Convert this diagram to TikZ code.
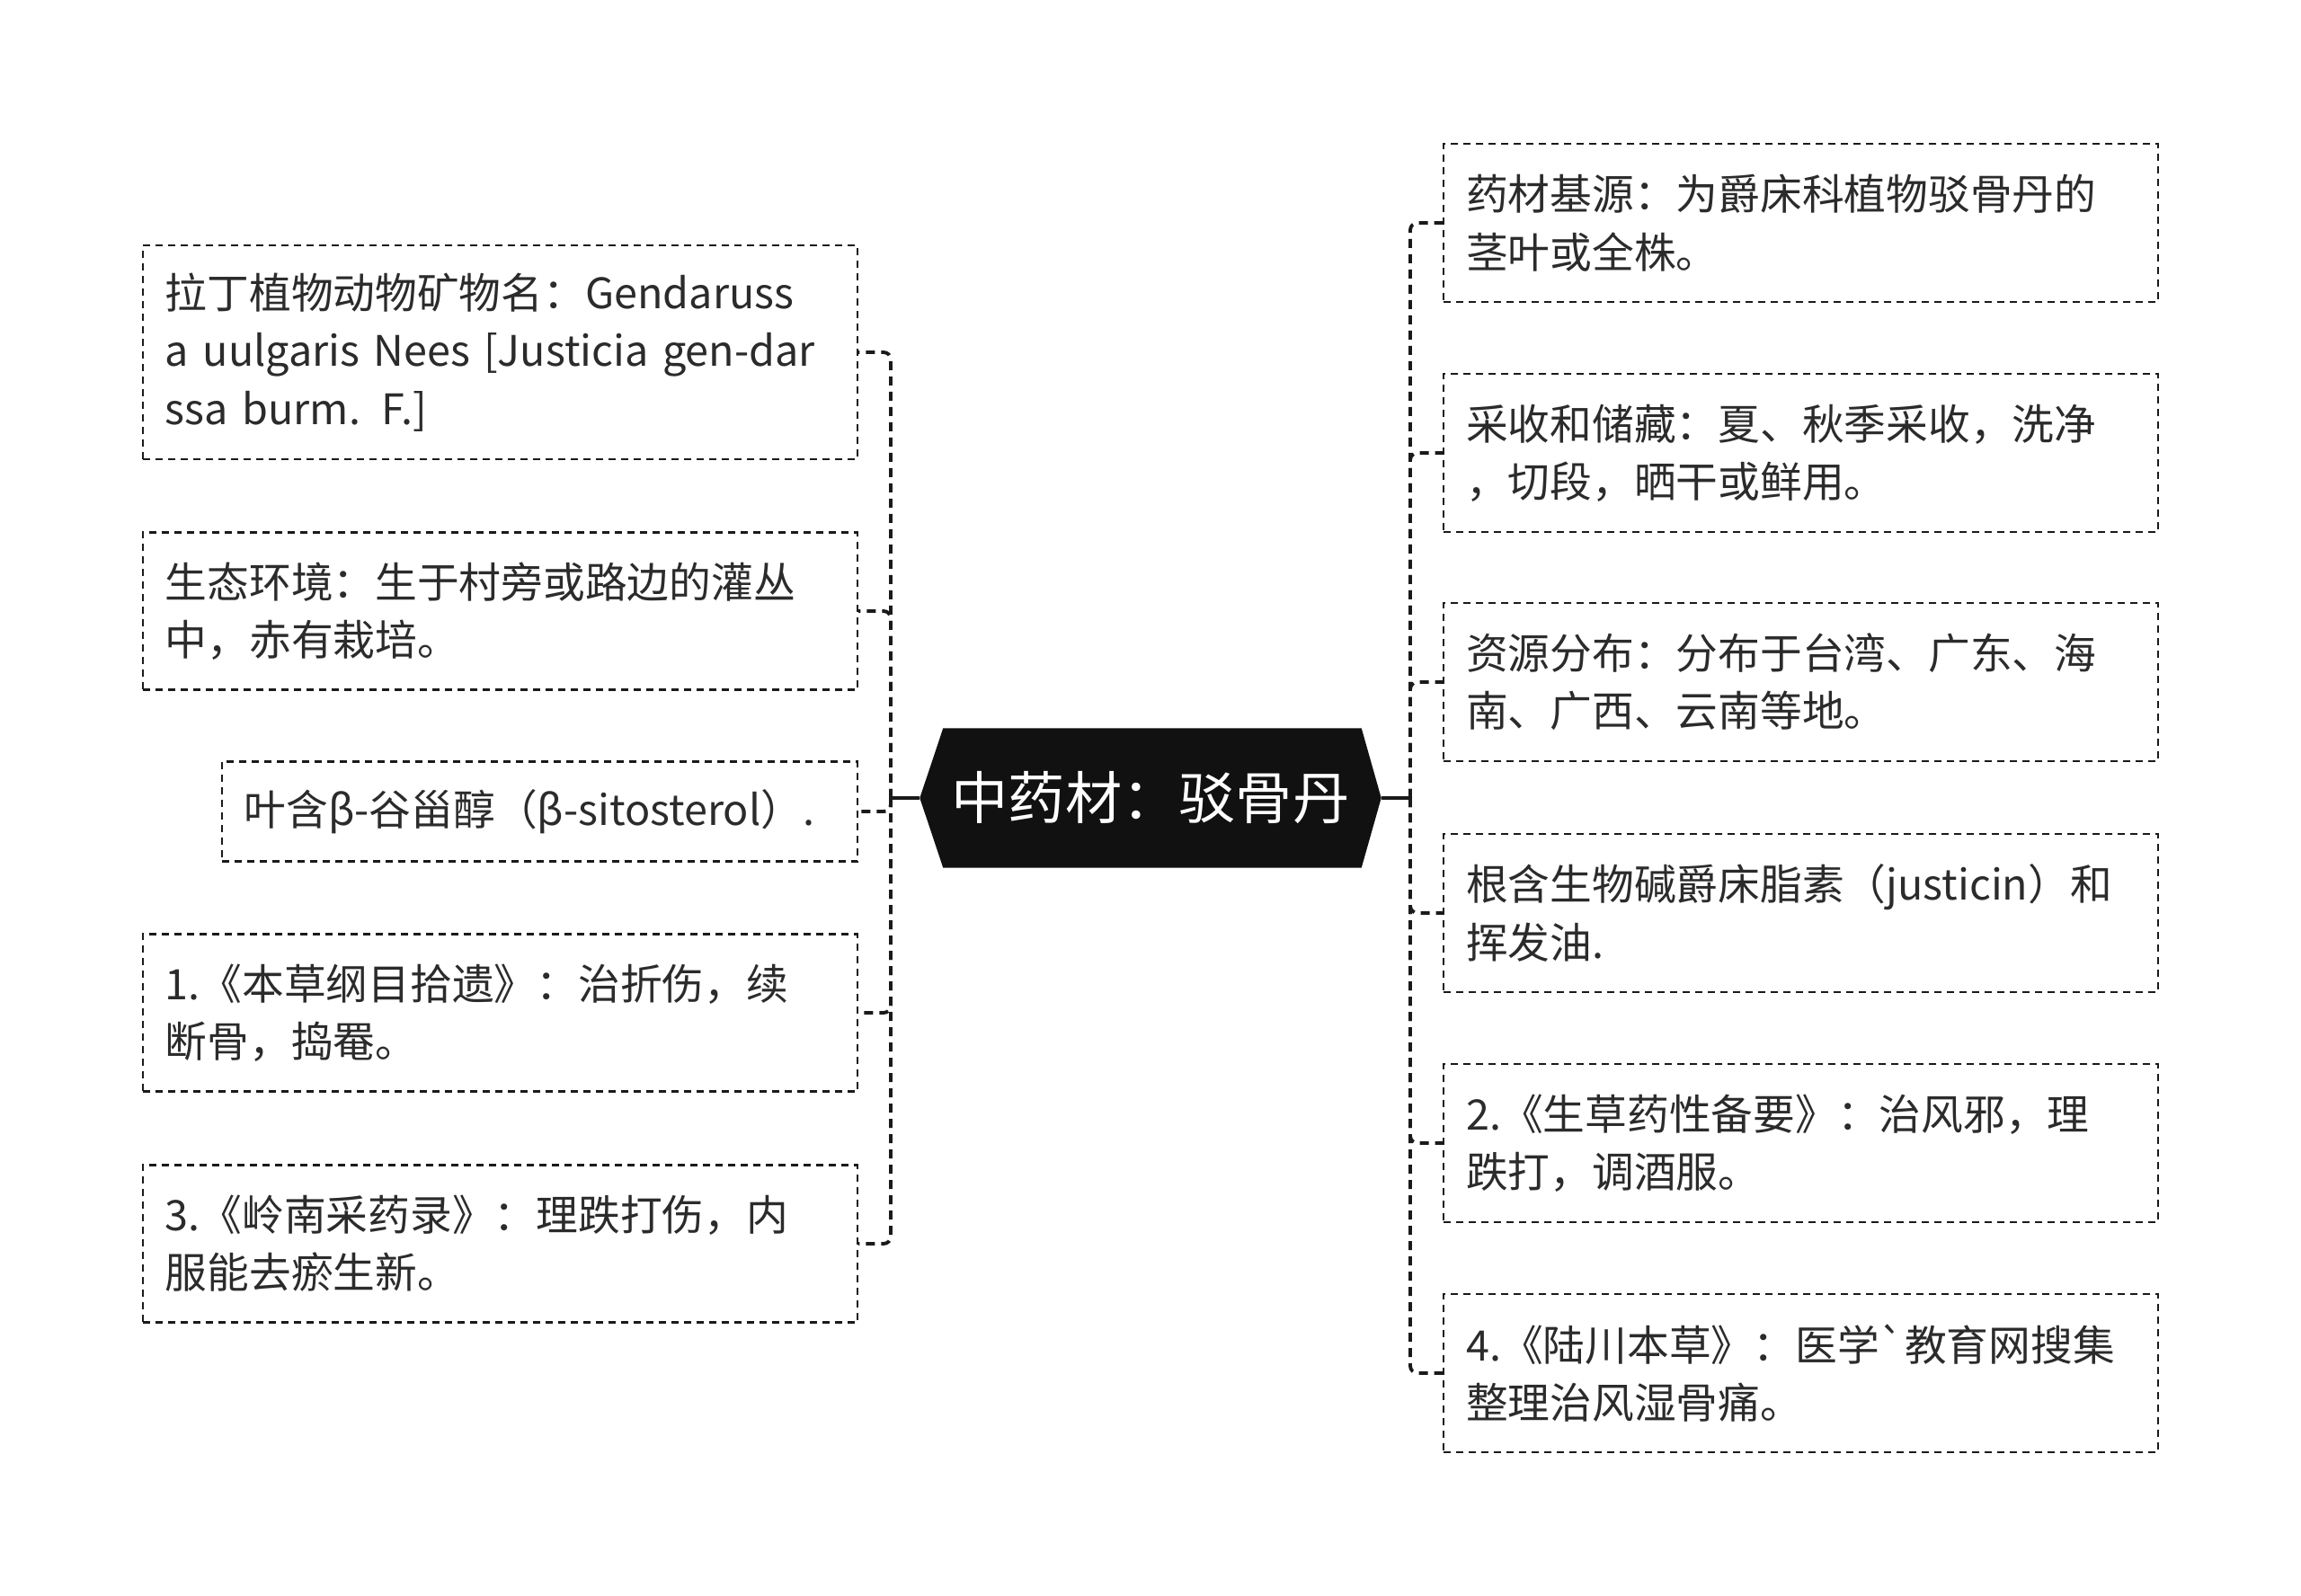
\documentclass[tikz,border=0pt]{standalone}
\usepackage{fontspec}
\usepackage{xcolor}
\usetikzlibrary{calc}
\newfontfamily\cjk{Noto Sans CJK SC}
\definecolor{ink}{HTML}{2B2B2B}
\definecolor{edge}{HTML}{1A1A1A}
\definecolor{rootfill}{HTML}{111111}
\pgfdeclarelayer{bg}
\pgfsetlayers{bg,main}
\tikzset{
  leaf/.style={draw=edge, dash pattern=on 0.08cm off 0.06cm, line width=0.7pt,
               text=ink, font=\cjk\fontsize{13.3}{18.3}\selectfont, align=left,
               text width=7.45cm, inner xsep=0.25cm, inner ysep=0pt},
  shortleaf/.style={leaf, text width=6.57cm, minimum height=1.11cm},
  rootnode/.style={text=white, font=\cjk\fontsize{18}{22}\selectfont,
                   minimum width=5.12cm, minimum height=1.54cm, inner sep=0pt},
  link/.style={draw=edge, line width=1.1pt},
  dlink/.style={link, dash pattern=on 0.1cm off 0.07cm, rounded corners=0.08cm}
}
\begin{document}
\begin{tikzpicture}
  \useasboundingbox (0,0) rectangle (25.6,-17.76);
  % centre topic
  \node[rootnode] (root) at (12.80,-8.88) {中药材：驳骨丹};
  \begin{pgfonlayer}{bg}
    \fill[rootfill] ($(root.north west)+(0.26,0)$) -- ($(root.north east)+(-0.22,0)$)
      -- (root.east) -- ($(root.south east)+(-0.22,0)$)
      -- ($(root.south west)+(0.26,0)$) -- (root.west) -- cycle;
  \end{pgfonlayer}
  \coordinate (ltrunk) at (9.91,-8.88);
  \coordinate (rtrunk) at (15.69,-8.88);
  % left side
  \node[leaf, minimum height=2.38cm, anchor=east] (l1) at (9.55,-3.92)
    {拉丁植物动物矿物名：Gendaruss\\a uulgaris Nees [Justicia gen-dar\\ssa burm. F.]};
  \node[leaf, minimum height=1.75cm, anchor=east] (l2) at (9.55,-6.80)
    {生态环境：生于村旁或路边的灌丛\\中，赤有栽培。};
  \node[shortleaf, anchor=east] (l3) at (9.55,-9.03)
    {叶含β-谷甾醇（β-sitosterol）.};
  \node[leaf, minimum height=1.75cm, anchor=east] (l4) at (9.55,-11.27)
    {1.《本草纲目拾遗》：治折伤，续\\断骨，捣罨。};
  \node[leaf, minimum height=1.75cm, anchor=east] (l5) at (9.55,-13.84)
    {3.《岭南采药录》：理跌打伤，内\\服能去瘀生新。};
  % right side
  \node[leaf, minimum height=1.76cm, anchor=west] (r1) at (16.05,-2.48)
    {药材基源：为爵床科植物驳骨丹的\\茎叶或全株。};
  \node[leaf, minimum height=1.76cm, anchor=west] (r2) at (16.05,-5.04)
    {采收和储藏：夏、秋季采收，洗净\\，切段，晒干或鲜用。};
  \node[leaf, minimum height=1.76cm, anchor=west] (r3) at (16.05,-7.59)
    {资源分布：分布于台湾、广东、海\\南、广西、云南等地。};
  \node[leaf, minimum height=1.76cm, anchor=west] (r4) at (16.05,-10.16)
    {根含生物碱爵床脂素（justicin）和\\挥发油.};
  \node[leaf, minimum height=1.76cm, anchor=west] (r5) at (16.05,-12.72)
    {2.《生草药性备要》：治风邪，理\\跌打，调酒服。};
  \node[leaf, minimum height=1.76cm, anchor=west] (r6) at (16.05,-15.28)
    {4.《陆川本草》：医学`教育网搜集\\整理治风湿骨痛。};
  % connectors
  \draw[link] (root.west) -- (ltrunk);
  \draw[link] (root.east) -- (rtrunk);
  \foreach \n in {l1,l2,l3,l4,l5}
    \draw[dlink] (ltrunk) |- (\n.east);
  \foreach \n in {r1,r2,r3,r4,r5,r6}
    \draw[dlink] (rtrunk) |- (\n.west);
\end{tikzpicture}
\end{document}
